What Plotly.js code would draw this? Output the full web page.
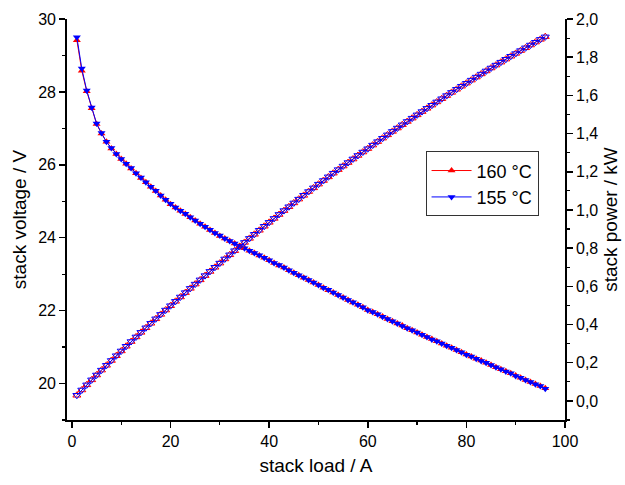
<!DOCTYPE html>
<html>
<head>
<meta charset="utf-8">
<script src="https://cdn.plot.ly/plotly-3.0.1.min.js"></script>
<style>html,body{margin:0;padding:0;background:#fff;}#chart{width:625px;height:485px;}</style>
</head>
<body>
<div id="chart"></div>
<script>
// stack load / A
var current = [1,2,3,4,5,6,7,8,9,10,11,12,13,14,15,16,17,18,19,20,21,22,23,24,25,26,27,28,29,30,31,32,33,34,35,36,37,38,39,40,41,42,43,44,45,46,47,48,49,50,51,52,53,54,55,56,57,58,59,60,61,62,63,64,65,66,67,68,69,70,71,72,73,74,75,76,77,78,79,80,81,82,83,84,85,86,87,88,89,90,91,92,93,94,95,96];

// stack voltage / V
var voltage160 = [29.42,28.58,28.02,27.55,27.12,26.86,26.63,26.45,26.30,26.16,26.03,25.90,25.77,25.64,25.52,25.40,25.28,25.16,25.04,24.92,24.83,24.74,24.65,24.56,24.47,24.38,24.30,24.21,24.13,24.05,23.98,23.91,23.84,23.77,23.71,23.64,23.58,23.51,23.45,23.38,23.31,23.24,23.18,23.11,23.04,22.97,22.90,22.84,22.77,22.70,22.63,22.56,22.50,22.43,22.36,22.29,22.22,22.16,22.09,22.02,21.96,21.90,21.84,21.77,21.71,21.65,21.59,21.52,21.46,21.40,21.34,21.28,21.22,21.16,21.10,21.04,20.98,20.92,20.86,20.80,20.74,20.68,20.63,20.57,20.51,20.45,20.39,20.34,20.28,20.22,20.16,20.10,20.04,19.99,19.93,19.87];
var voltage155 = [29.50,28.64,28.04,27.57,27.13,26.87,26.63,26.46,26.30,26.16,26.03,25.91,25.77,25.65,25.52,25.40,25.29,25.16,25.04,24.93,24.83,24.74,24.66,24.56,24.47,24.38,24.30,24.22,24.13,24.06,23.98,23.91,23.84,23.78,23.71,23.64,23.58,23.52,23.45,23.38,23.31,23.25,23.18,23.11,23.04,22.97,22.91,22.84,22.77,22.70,22.63,22.57,22.50,22.43,22.36,22.29,22.23,22.16,22.09,22.01,21.96,21.90,21.83,21.77,21.71,21.65,21.58,21.52,21.46,21.40,21.34,21.28,21.21,21.16,21.10,21.04,20.98,20.92,20.86,20.79,20.74,20.68,20.62,20.57,20.51,20.45,20.39,20.33,20.28,20.21,20.16,20.10,20.04,19.98,19.93,19.86];

// stack power / kW
var power160 = [0.0294,0.0572,0.0841,0.1102,0.1356,0.1612,0.1864,0.2116,0.2367,0.2616,0.2863,0.3108,0.3350,0.3590,0.3828,0.4064,0.4298,0.4529,0.4758,0.4984,0.5214,0.5443,0.5670,0.5894,0.6118,0.6339,0.6561,0.6779,0.6998,0.7215,0.7434,0.7651,0.7867,0.8082,0.8299,0.8510,0.8725,0.8934,0.9146,0.9352,0.9557,0.9761,0.9967,1.0168,1.0368,1.0566,1.0763,1.0963,1.1157,1.1350,1.1541,1.1731,1.1925,1.2112,1.2298,1.2482,1.2665,1.2853,1.3033,1.3212,1.3396,1.3578,1.3759,1.3933,1.4112,1.4289,1.4465,1.4634,1.4807,1.4980,1.5151,1.5322,1.5491,1.5658,1.5825,1.5990,1.6155,1.6318,1.6479,1.6640,1.6799,1.6958,1.7123,1.7279,1.7434,1.7587,1.7739,1.7899,1.8049,1.8198,1.8346,1.8492,1.8637,1.8791,1.8934,1.9075];
var power155 = [0.0295,0.0573,0.0841,0.1103,0.1357,0.1612,0.1864,0.2117,0.2367,0.2616,0.2863,0.3109,0.3350,0.3591,0.3828,0.4064,0.4299,0.4529,0.4758,0.4986,0.5214,0.5443,0.5672,0.5894,0.6118,0.6339,0.6561,0.6782,0.6998,0.7218,0.7434,0.7651,0.7867,0.8085,0.8299,0.8510,0.8725,0.8938,0.9146,0.9352,0.9557,0.9765,0.9967,1.0168,1.0368,1.0566,1.0768,1.0963,1.1157,1.1350,1.1541,1.1736,1.1925,1.2112,1.2298,1.2482,1.2671,1.2853,1.3033,1.3206,1.3396,1.3578,1.3753,1.3933,1.4112,1.4289,1.4459,1.4634,1.4807,1.4980,1.5151,1.5322,1.5483,1.5658,1.5825,1.5990,1.6155,1.6318,1.6479,1.6632,1.6799,1.6958,1.7115,1.7279,1.7434,1.7587,1.7739,1.7890,1.8049,1.8189,1.8346,1.8492,1.8637,1.8781,1.8934,1.9066];

var seriesNames = ['160 °C', '155 °C'];
var tickLabelsRight = ['0,0','0,2','0,4','0,6','0,8','1,0','1,2','1,4','1,6','1,8','2,0'];

var RED = '#ff0000', BLUE = '#0000ff';
var FONT = 'Liberation Sans, Arial, sans-serif';

var traces = [
  {x: current, y: voltage160, name: seriesNames[0], type: 'scatter', mode: 'lines+markers',
   line: {color: RED, width: 1}, marker: {symbol: 'triangle-up', size: 7, color: RED}, xaxis: 'x', yaxis: 'y'},
  {x: current, y: power160, name: seriesNames[0], type: 'scatter', mode: 'lines+markers', showlegend: false,
   line: {color: RED, width: 1}, marker: {symbol: 'triangle-up-open', size: 7, color: RED, line: {width: 1}}, xaxis: 'x', yaxis: 'y2'},
  {x: current, y: voltage155, name: seriesNames[1], type: 'scatter', mode: 'lines+markers',
   line: {color: BLUE, width: 1}, marker: {symbol: 'triangle-down', size: 7, color: BLUE}, xaxis: 'x', yaxis: 'y'},
  {x: current, y: power155, name: seriesNames[1], type: 'scatter', mode: 'lines+markers', showlegend: false,
   line: {color: BLUE, width: 1}, marker: {symbol: 'triangle-down-open', size: 7, color: BLUE, line: {width: 1}}, xaxis: 'x', yaxis: 'y2'}
];

var tickValsRight = tickLabelsRight.map(function(s){ return parseFloat(s.replace(',', '.')); });

var layout = {
  width: 625, height: 485,
  margin: {l: 67, r: 60, t: 19, b: 65, pad: 0},
  paper_bgcolor: '#ffffff', plot_bgcolor: '#ffffff',
  font: {family: FONT, size: 16, color: '#000'},
  separators: ',.',
  showlegend: true,
  legend: {x: 0.72, y: 0.67, xanchor: 'left', yanchor: 'top', bgcolor: '#ffffff',
           bordercolor: '#333', borderwidth: 1, font: {family: FONT, size: 18, color: '#000'},
           tracegroupgap: 0, itemwidth: 40},
  xaxis: {range: [-1, 100], tick0: 0, dtick: 20, showgrid: false, zeroline: false,
          showline: true, linecolor: '#000', linewidth: 1.8, mirror: false,
          ticks: 'outside', ticklen: 6, tickwidth: 1.5, tickcolor: '#000',
          minor: {dtick: 10, tick0: 0, ticks: 'outside', ticklen: 3, tickwidth: 1.2, tickcolor: '#000', showgrid: false},
          tickfont: {family: FONT, size: 16},
          title: {text: 'stack load / A', font: {family: FONT, size: 19}, standoff: 10}},
  yaxis: {range: [19, 30], tick0: 20, dtick: 2, showgrid: false, zeroline: false,
          showline: true, linecolor: '#000', linewidth: 1.8, mirror: false,
          ticks: 'outside', ticklen: 6, tickwidth: 1.5, tickcolor: '#000',
          minor: {dtick: 1, tick0: 20, ticks: 'outside', ticklen: 3, tickwidth: 1.2, tickcolor: '#000', showgrid: false},
          tickfont: {family: FONT, size: 16},
          title: {text: 'stack voltage / V', font: {family: FONT, size: 19}, standoff: 6}},
  yaxis2: {overlaying: 'y', side: 'right', range: [-0.1, 2.0],
           tickmode: 'array', tickvals: tickValsRight, ticktext: tickLabelsRight,
           showgrid: false, zeroline: false,
           showline: true, linecolor: '#000', linewidth: 1.8, mirror: false,
           ticks: 'outside', ticklen: 6, tickwidth: 1.5, tickcolor: '#000',
           minor: {dtick: 0.1, tick0: 0, ticks: 'outside', ticklen: 3, tickwidth: 1.2, tickcolor: '#000', showgrid: false},
           tickfont: {family: FONT, size: 16},
           title: {text: 'stack power / kW', font: {family: FONT, size: 19}, standoff: 6}}
};

Plotly.newPlot('chart', traces, layout, {displayModeBar: false, staticPlot: true});
</script>
</body>
</html>
